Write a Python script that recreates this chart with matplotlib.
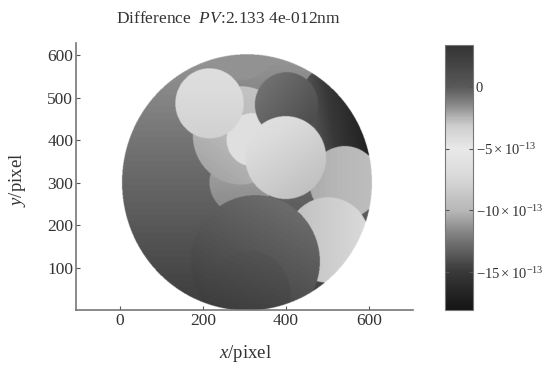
import numpy as np
import matplotlib
matplotlib.use('Agg')
import matplotlib.pyplot as plt
from matplotlib.colors import LinearSegmentedColormap

plt.rcParams['font.family'] = 'Liberation Serif'
plt.rcParams['mathtext.fontset'] = 'custom'
plt.rcParams['mathtext.rm'] = 'Liberation Serif'
plt.rcParams['mathtext.it'] = 'Liberation Serif:italic'

# aperture (pixel coords)
ap_cx, ap_cy, ap_r = 305, 300, 300
img_size = 610

# sub-aperture patches, drawn in this order (later ones on top)
# value = v0 + gx*(x-cx) + gy*(y-cy), units 1e-13 nm
region_name = ['bg', 'T', 'M', 'I', 'N', 'A', 'C', 'B', 'E', 'D', 'F', 'G', 'H']
region_cx = [305, 290, 290, 290, 318, 215, 545, 400, 540, 398, 500, 325, 310]
region_cy = [300, 625, 300, 410, 400, 485, 470, 482, 300, 358, 165, 115, 40]
region_r = [300, 85, 75, 115, 62, 82, 120, 76, 85, 97, 100, 155, 100]
region_v0 = [-13.0, -11.3, -11.1, -9.8, -6.3, -7.2, -16.0, -13.3, -9.9, -7.8, -8.2, -13.8, -14.4]
region_gx = [0.0, 0.0, 0.0, 0.004, 0.0, 0.0, -0.025, -0.008, 0.006, -0.008, 0.012, 0.003, 0.002]
region_gy = [0.006, 0.0, 0.008, 0.006, 0.0, 0.008, -0.004, 0.006, 0.0, 0.012, 0.0, 0.006, 0.006]

# colour bar limits and ticks
c_min, c_max = -18.06e-13, 3.4e-13
cbar_ticks = [0, -5e-13, -10e-13, -15e-13]
cbar_labels = ['0', r'$-5\times10^{-13}$', r'$-10\times10^{-13}$', r'$-15\times10^{-13}$']

# grey levels along the colour bar (0 = bottom, 1 = top)
cmap_pos = [0.0, 0.143, 0.26, 0.376, 0.515, 0.61, 0.70, 0.77, 0.842, 1.0]
cmap_gray = [0.08, 0.22, 0.45, 0.72, 0.86, 0.91, 0.80, 0.55, 0.35, 0.20]

cmap = LinearSegmentedColormap.from_list(
    'pv', [(p, (g, g, g)) for p, g in zip(cmap_pos, cmap_gray)])
cmap.set_bad('white')

# build the map
xx, yy = np.meshgrid(np.arange(img_size) + 0.5, np.arange(img_size) + 0.5)
Z = np.full(xx.shape, np.nan)
for cx, cy, r, v0, gx, gy in zip(region_cx, region_cy, region_r,
                                 region_v0, region_gx, region_gy):
    m = (xx - cx)**2 + (yy - cy)**2 <= r**2
    Z[m] = (v0 + gx * (xx[m] - cx) + gy * (yy[m] - cy)) * 1e-13
Z[(xx - ap_cx)**2 + (yy - ap_cy)**2 > ap_r**2] = np.nan

fig = plt.figure(figsize=(5.53, 3.65), dpi=100)
ax = fig.add_axes([76/553, 55/365, 337/553, 267/365])
im = ax.imshow(Z, origin='lower', extent=[0, img_size, 0, img_size], cmap=cmap,
               vmin=c_min, vmax=c_max, interpolation='bilinear')
ax.set_aspect('auto')
ax.set_xlim(-105, 705)
ax.set_ylim(1, 628)
ax.set_xticks([0, 200, 400, 600])
ax.set_yticks([100, 200, 300, 400, 500, 600])
for s in ['top', 'right']:
    ax.spines[s].set_visible(False)
for s in ['left', 'bottom']:
    ax.spines[s].set_color('#777777')
    ax.spines[s].set_linewidth(1.2)
ax.tick_params(direction='in', length=3, color='#555555', labelsize=12.5,
               labelcolor='#333333', pad=2)

fig.text(245/553, 1 - 353/365, r'$\it{x}$/pixel', ha='center', va='center',
         fontsize=13.5, color='#333333')
fig.text(17/553, 1 - 180/365, r'$\it{y}$/pixel', ha='center', va='center',
         rotation=90, fontsize=13.5, color='#333333')
fig.text(228/553, 1 - 19/365, r'Difference  $\it{PV}$:2.133 4e-012nm',
         ha='center', va='center', fontsize=12.5, color='#333333')

cax = fig.add_axes([445/553, 55/365, 28/553, 265/365])
cb = fig.colorbar(im, cax=cax)
cb.set_ticks(cbar_ticks)
cb.set_ticklabels(cbar_labels)
cb.outline.set_edgecolor('#777777')
cax.tick_params(direction='in', length=3, left=True, right=True,
                color='#555555', labelsize=10.5, labelcolor='#333333', pad=2)

fig.savefig('out.png', dpi=100)
